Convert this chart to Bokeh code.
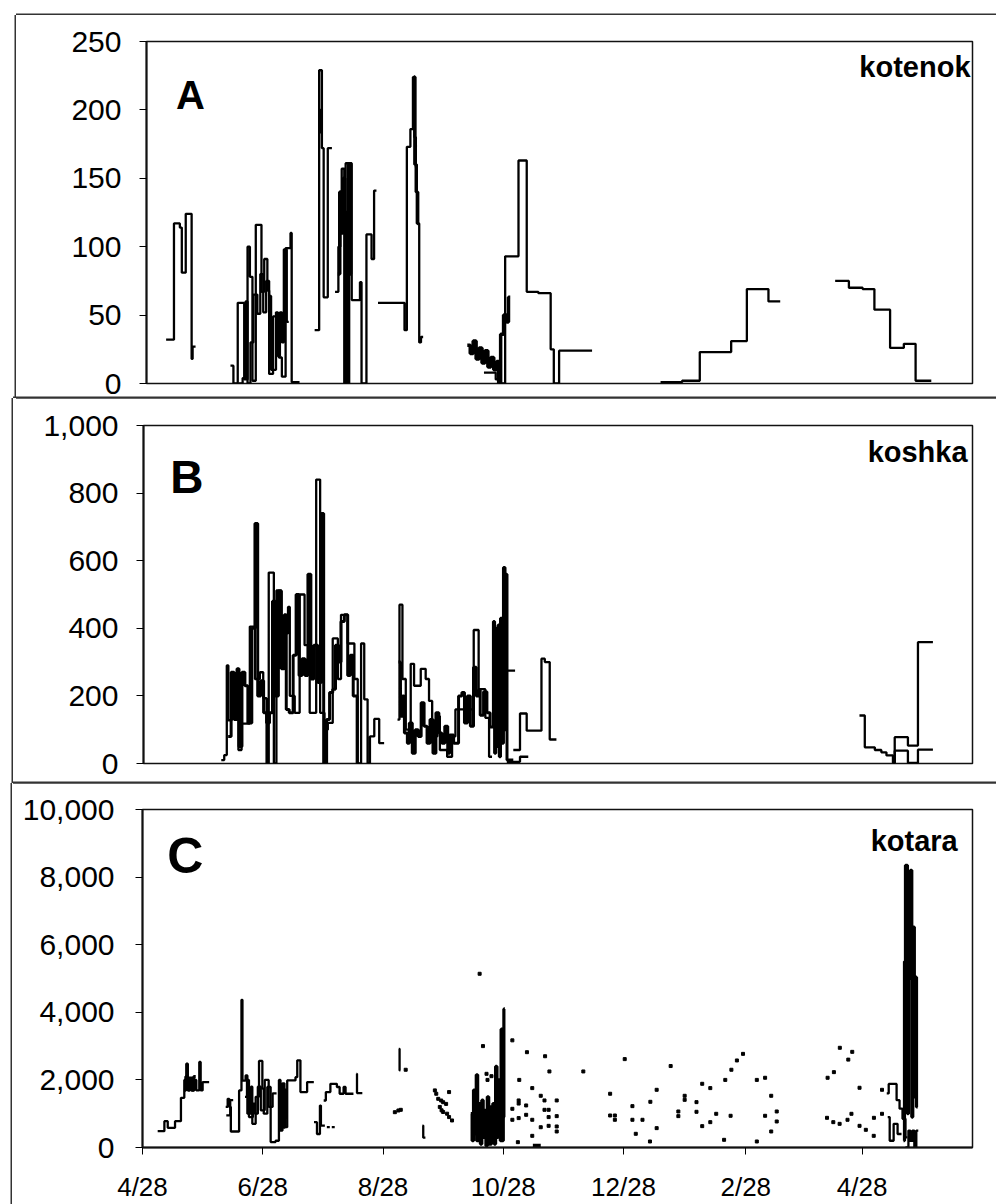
import numpy as np
from bokeh.plotting import figure
from bokeh.layouts import column
from bokeh.models import Label, FixedTicker, NumeralTickFormatter, Range1d
from bokeh.embed import file_html
from bokeh.resources import INLINE

# ---------------- data (x = days after 4/28, y = value; None ends a run) ----------------
X_MAX = 421
tick_days = [0, 61, 122, 183, 244, 306, 365]
tick_labels = ["4/28", "6/28", "8/28", "10/28", "12/28", "2/28", "4/28"]

# Panel A  (kotenok)
A1 = [(10, 32), (14, 117), (17, 114), (18, 81), (20, 124), (23, 18), (23.5, 27), (25, None)]
A2 = [(42.8, 13), (44.3, 0), (46.5, 59), (49.8, 3), (51.5, 100), (52.7, 78), (54, 2), (55.7, 116),
      (58.6, 67), (60, 91), (61.6, 68), (62.5, 7), (64.5, 49), (67.5, 19), (69, 5), (70.9, 99),
      (73.4, 110), (74, 1), (78, None)]
A2b = [(47, 0), (49, 4), (50.5, 60), (51.5, 0), (53, 30), (54.5, 65), (56.5, 51), (58, 80), (59.5, 52),
       (61, 75), (62.5, 64), (63.5, 10), (66, 52), (67, 20), (68, 52), (69, 30), (70, 98), (71.5, 45),
       (72.5, None)]
A3 = [(85.7, 39), (88, 229), (89.4, 172), (90.3, 63), (92.4, 172), (94.5, None)]
A3b = [(88, 184), (89, 200), (89.6, None)]
A4 = [(96.1, 67), (97.8, 100), (98.8, 131), (99.5, 157), (100.8, 0), (101.5, 161), (104.6, 61),
      (108.8, 74), (109.6, 0), (112.1, 109), (114.7, 91), (116, 141), (117.2, None)]
A4b = [(97.5, 80), (98.5, 140), (99.5, 110), (100.3, 150), (101, 125), (102, 0), (103, 160),
       (104, 80), (104.6, None)]
A5 = [(118, 59), (131.5, 39), (132.7, 173), (134.5, 186), (135.8, 224), (136.5, 180), (137.3, 158),
      (137.8, 117), (139, 30), (139.9, 34), (141, None)]
A5b = [(136.2, 224), (136.8, 160), (137.5, 140), (138.2, 117), (138.6, None)]
A6 = [(163.5, 28), (165, 22), (166.5, 31), (168, 18), (169.5, 26), (171, 15), (172.5, 24), (174, 12),
      (175.5, 19), (177, 10), (178.5, 16), (179.5, 0), (180.5, 36), (182, 50), (183.5, 45),
      (184.5, 63), (185.4, None)]
A7 = [(172, 8), (177, 8), (178, 3), (180.3, 0), (182.8, 93), (189.6, 163), (193.8, 67), (199.7, 66),
      (206, 25), (207.6, 0), (210.3, 24), (227.1, None)]
A8 = [(262, 1), (273, 2), (282, 23), (298, 31), (306, 69), (317, 60), (323, None)]
A9 = [(351, 75), (358, 70), (365, 69), (371, 54), (379, 26), (386, 29), (392, 2), (400, None)]

# Panel B  (koshka)
B1 = [(39.5, 10), (41, 25), (42.3, 290), (43.1, 128), (44.8, 133), (48.2, 40), (49.8, 118), (54, 405),
      (56.6, 250), (59.1, 270), (60.8, 193), (62.5, 0), (63.6, 565), (66.2, 0), (67.5, 512), (70, 385),
      (73.4, 463), (74.3, 200), (76.8, 150), (79.3, 500), (81.8, 350), (84.4, 150), (87.7, 840),
      (89.7, 150), (91.9, 100), (93.6, 120), (96.1, 370), (98.7, 250), (100.3, 440), (103.7, 355),
      (107.1, 250), (108.8, 0), (110.5, 355), (112.1, 190), (113.8, 0), (115, 80), (117.2, 132),
      (119.7, 60), (122.2, None)]
B2 = [(43, 80), (44.5, 270), (46, 130), (47.5, 280), (48.5, 50), (50, 270), (51.5, 230), (53, 120),
      (55, 400), (56.6, 710), (58, 200), (59.5, 245), (61, 150), (62.5, 120), (64, 150), (65.5, 480),
      (67, 200), (68.5, 510), (70, 280), (71.5, 440), (72.5, 160), (74, 150), (76, 320), (77.5, 500),
      (79, 260), (80.5, 310), (82, 260), (83.5, 560), (85, 250), (86.5, 350), (88.5, 240), (90.3, 740),
      (91.5, 0), (93, 130), (94.5, 210), (96.1, 220), (97.5, 350), (99, 300), (100.3, 420), (102, 440),
      (103.7, 260), (105, 320), (106.5, 200), (108.5, 0), (109.5, None)]
B3 = [(129, 130), (130, 470), (131.5, 250), (133.2, 100), (135.7, 295), (137.4, 230), (140.8, 280),
      (143.3, 250), (145, 185), (146.6, 80), (149.2, 140), (150.5, 40), (154.2, 20), (156.7, 80),
      (158.4, 160), (167.7, 395), (170.2, 220), (173.6, 135), (175.5, 20), (177, None)]
B4 = [(129.5, 300), (130.5, 140), (131.5, 200), (132.5, 90), (134, 60), (135, 120), (136.5, 30),
      (138, 100), (139.5, 80), (141, 180), (142.5, 110), (144, 60), (145.5, 130), (147, 30),
      (148.5, 150), (150, 90), (151.5, 60), (153, 110), (154.5, 30), (155.5, 84), (157.5, 60),
      (160, 200), (161.7, 210), (163, 120), (164.5, 200), (166, 110), (167.6, 285), (169, 200),
      (170.2, 217), (171, 143), (172.7, 212), (174.4, 150), (176, 108), (177.7, 420), (178.3, 30),
      (178.9, 400), (179.5, 50), (180.1, 410), (180.7, 20), (181.3, 430), (182, 60), (182.8, 580),
      (183.6, 100), (184.2, 560), (184.6, 10), (187.8, None)]
B5 = [(184.5, 275), (188.7, None)]
B6 = [(187.8, 40), (191.2, 148), (194.6, 97), (202.1, 310), (203.8, 300), (206.3, 71), (209.7, None)]
B7 = [(184.5, 5), (191.2, 20), (195.4, None)]
B8 = [(363.6, 142), (366.3, 48), (371.4, 40), (374.7, 33), (377.3, 24), (380.6, 2), (381.5, 78),
      (388.2, 53), (393.3, 359), (400.9, None)]
B9 = [(380.6, 2), (381.5, 38), (388.2, 2), (393.3, 41), (400.9, None)]

# Panel C  (kotara)
C1 = [(7.7, 484), (11.1, 780), (12.8, 582), (16.5, 780), (19.5, 1470), (21.2, 2000), (22.2, 2480),
      (23, 1885), (24.6, 1690), (26.3, 2000), (27.3, 1690), (28.8, 2530), (29.5, 1690), (30.5, 1935),
      (33.8, None)]
C1b = [(21, 1700), (22, 2100), (23, 1700), (24, 2050), (25, 1700), (26, 2100), (27, None)]
C2 = [(42.2, 1200), (43.2, 1440), (44, 1200), (44.8, 474), (49, 1690), (50.2, 4370), (50.7, 1980),
      (52.3, 2130), (53.2, 1000), (55, 1800), (55.7, 700), (57.4, 1500), (59.1, 2560), (60.8, 1740),
      (61.5, 1000), (63.3, 1790), (65, 160), (67.5, 200), (69.2, 2000), (70, 500), (71, 1900),
      (72, 600), (73.4, 1985), (77.6, 2080), (78.5, 2580), (80.1, 1640), (83.5, 1935), (86.9, None)]
C2b = [(52, 1500), (53, 2000), (54, 900), (56, 1300), (57, 1000), (58.5, 1800), (60, 1100), (62, 2000),
       (64, 1200), (66, 1600), (68, None)]
C2c = [(69, 1900), (69.8, 800), (70.6, 1800), (71.4, 600), (72.2, 1700), (73, 900), (73.8, None)]
C2d = [(87, 750), (88.5, 400), (90, 1240), (90.5, 650), (92.5, None), (93.5, 600), (95, None),
       (96, 600), (97.5, None)]
C2e = [(91.9, 1390), (93, 1640), (95.3, 1885), (98.6, 1790), (100, 1590), (102, 1790), (103, 1590),
       (107, None)]
C2f = [(108.5, 2180), (108.8, 1610), (111.5, None)]
C2g = [(42.5, 950), (44.5, 1400), (46, None)]
C4 = [(130, 2920), (130.4, 2280), (130.8, None), (142, 650), (142.4, 290), (143.5, None)]
C3 = [(166.5, 1000), (167.2, 200), (167.9, 1700), (168.6, 400), (169.3, 2150), (170, 300), (170.7, 1300),
      (171.4, 100), (172.1, 1400), (172.8, 500), (173.5, 1100), (174.2, 50), (174.9, 1500),
      (175.6, 200), (176.3, 1200), (177, 600), (177.7, 1300), (178.4, 100), (179.1, 2400),
      (179.8, 300), (180.5, 2000), (181.2, 600), (181.9, 3500), (182.6, 900), (183.3, 4100),
      (183.8, None)]
C3b = [(166.8, 600), (168, 1100), (169.5, 200), (171, 900), (172.5, 300), (174, 1000), (175.5, 100),
       (177, 900), (178.5, 400), (180, 1600), (181.5, 200), (183, 1200), (183.8, None), (198, 60),
       (202, None)]
C5 = [(377.5, 1600), (378.5, 1880), (382.5, 1400), (384, 1150), (385.5, 850), (387, 300), (388, None)]
C5b = [(378, 900), (379, 200), (381, 700), (383, 400), (385, None)]
C6 = [(386, 200), (386.5, 5500), (387, 8350), (388, 1000), (388.5, 5000), (389.5, 8200), (390.2, 900),
      (390.7, 6520), (391.5, 1500), (392, 5040), (392.6, 1200), (393.2, None)]
C6b = [(387, 0), (388.5, 500), (389.5, 200), (390.5, 500), (391.5, 0), (392.5, 500), (393.5, None)]
C_dots = [(128, 1045), (129.8, 1095), (131, 1115), (133.5, 2300), (148.3, 1690), (149, 1590),
          (150, 1440), (151.5, 1390), (152.5, 1340), (154, 1290), (155.5, 1640), (152.5, 1050),
          (154.5, 1000), (155.5, 900), (157, 800), (150.8, 1200), (151.7, 1100), (171, 5140),
          (172.7, 3000), (174.5, 2180), (177, 2110), (175, 2000), (187.6, 3170), (187.6, 1145),
          (187.6, 820), (190.8, 1392), (190.8, 1300), (190.8, 870), (191.1, 2000), (194.6, 1244),
          (194.6, 967), (195, 2820), (197.7, 1757), (197.7, 820), (197.7, 345), (202, 1530), (202, 600),
          (203.9, 1392), (203.9, 1115), (204.2, 2700), (206, 1115), (206, 900), (206, 641),
          (206.4, 2250), (210.1, 1392), (210.1, 928), (210.1, 622), (210.1, 474), (190.4, 158),
          (223.6, 2250), (237.2, 1590), (237.2, 947), (239.6, 947), (239.6, 820), (244.6, 2615),
          (248.5, 1224), (248.5, 820), (250.2, 405), (253.6, 820), (257.6, 1352), (257.4, 178),
          (260.8, 1707), (260.8, 573), (267.9, 2410), (271.8, 1066), (271.8, 928), (275, 1530),
          (275, 1410), (281, 1342), (281, 1056), (283.9, 1885), (283.9, 632), (288, 1757), (288, 750),
          (291, 997), (295, 227), (295.6, 2000), (298.3, 938), (298.7, 2300), (301.5, 2575),
          (304.6, 2770), (311.6, 2000), (311.6, 178), (315.8, 2063), (315.8, 938), (318.9, 1530),
          (318.9, 474), (321.7, 1066), (321.7, 770), (347.5, 2063), (350.7, 2230), (353.7, 2950),
          (358, 2600), (360, 2830), (363.7, 1767), (375.1, 1707), (347.2, 878), (350.4, 750),
          (353.6, 700), (357.6, 820), (359.6, 997), (363.7, 641), (366.9, 523), (370.9, 345),
          (371, 878), (375.1, 997)]

FONT = "Liberation Sans"


def step_xy(pairs):
    xs, ys = [], []
    for i in range(len(pairs) - 1):
        x0, y0 = pairs[i]
        x1 = pairs[i + 1][0]
        if y0 is None:
            xs.append(np.nan)
            ys.append(np.nan)
            continue
        xs += [x0, x1]
        ys += [y0, y0]
    return xs, ys


def make_fig(width, height, ymax, yticks, borders, standoff, margin):
    left, right, top, bottom = borders
    p = figure(width=width, height=height, x_range=Range1d(0, X_MAX), y_range=Range1d(0, ymax),
               output_backend="svg", toolbar_location=None, margin=margin,
               min_border_left=left, min_border_right=right, min_border_top=top,
               min_border_bottom=bottom)
    p.grid.visible = False
    p.outline_line_color = "#111111"
    p.outline_line_width = 1.5
    p.background_fill_color = "white"
    p.border_fill_color = "white"
    ax = p.yaxis[0]
    ax.ticker = FixedTicker(ticks=yticks)
    ax.formatter = NumeralTickFormatter(format="0,0")
    ax.major_label_text_font = FONT
    ax.major_label_text_font_size = "30px"
    ax.major_label_text_color = "#000000"
    ax.axis_line_width = 2
    ax.axis_line_color = "#111111"
    ax.major_tick_in = 0
    ax.major_tick_out = 7
    ax.minor_tick_in = 0
    ax.minor_tick_out = 0
    ax.major_label_standoff = standoff
    p.styles = {"box-shadow": "-1.5px 0 0 0 #333, 0 -1.5px 0 0 #333, 0 1.5px 0 0 #333"}
    return p


def draw(p, series, width):
    for s in series:
        xs, ys = step_xy(s)
        p.line(xs, ys, line_width=width, line_color="black")


def panel_text(p, letter, lx, ly, lsize, name, nx, ny):
    p.add_layout(Label(x=lx, y=ly, text=letter, text_font=FONT, text_font_style="bold",
                       text_font_size=lsize, text_align="left", text_baseline="alphabetic",
                       text_color="black"))
    p.add_layout(Label(x=nx, y=ny, text=name, text_font=FONT, text_font_style="bold",
                       text_font_size="29px", text_align="right", text_baseline="alphabetic",
                       text_color="black"))


# Panel A
pA = make_fig(980, 383, 250, [0, 50, 100, 150, 200, 250], (127, 18, 26, 15), 18, (15, 0, 0, 16))
pA.xaxis.visible = False
draw(pA, [A1, A2, A2b, A3, A4, A5, A7, A8, A9], 2.3)
draw(pA, [A3b, A4b, A5b, A6], 3.5)
panel_text(pA, "A", 15, 211, "40px", "kotenok", 420, 231)

# Panel B
pB = make_fig(983, 385, 1000, [0, 200, 400, 600, 800, 1000], (130, 19, 27, 20), 18, (0, 0, 0, 13))
pB.xaxis.visible = False
draw(pB, [B1, B3, B5, B6, B7, B8, B9], 2.3)
draw(pB, [B2, B4], 3.0)
panel_text(pB, "B", 13.6, 849, "46px", "koshka", 418.5, 923)

# Panel C
pC = make_fig(984, 421, 10000, [0, 2000, 4000, 6000, 8000, 10000], (126, 24, 26, 57), 21,
              (0, 0, 0, 12))
xa = pC.xaxis[0]
xa.ticker = FixedTicker(ticks=tick_days)
xa.major_label_overrides = {d: lab for d, lab in zip(tick_days, tick_labels)}
xa.major_label_text_font = FONT
xa.major_label_text_font_size = "26px"
xa.major_label_text_color = "#000000"
xa.axis_line_width = 2
xa.axis_line_color = "#111111"
xa.major_tick_in = 0
xa.major_tick_out = 7
xa.minor_tick_in = 0
xa.minor_tick_out = 0
xa.major_label_standoff = 17
draw(pC, [C1, C2, C2b, C2d, C2e, C2f, C2g, C4, C5, C5b, C6b], 2.3)
draw(pC, [C1b, C2c, C3, C3b, C6], 3.2)
pC.scatter([d[0] for d in C_dots], [d[1] for d in C_dots], marker="square", size=3,
           color="black")
panel_text(pC, "C", 12.6, 8610, "50px", "kotara", 413.5, 9068)

layout = column(pA, pB, pC, spacing=0)
open("out.html", "w").write(file_html(layout, INLINE))
